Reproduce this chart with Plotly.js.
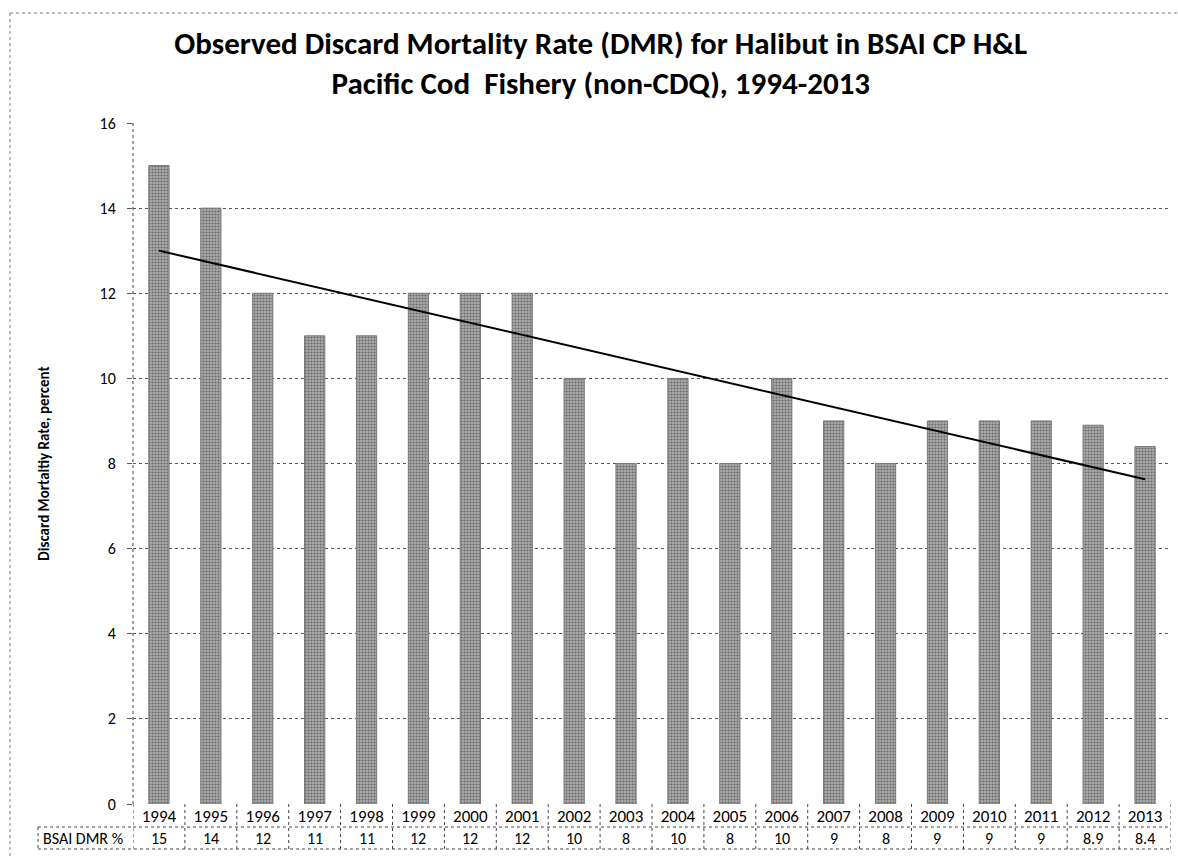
<!DOCTYPE html>
<html>
<head>
<meta charset="utf-8">
<script src="https://cdn.plot.ly/plotly-3.0.1.min.js"></script>
<style>html,body{margin:0;padding:0;background:#fff;}#chart{width:1178px;height:858px;}</style>
</head>
<body>
<div id="chart"></div>
<script>
const years = ["1994","1995","1996","1997","1998","1999","2000","2001","2002","2003","2004","2005","2006","2007","2008","2009","2010","2011","2012","2013"];
const dmrValues = [15,14,12,11,11,12,12,12,10,8,10,8,10,9,8,9,9,9,8.9,8.4];
const dmrLabels = ["15","14","12","11","11","12","12","12","10","8","10","8","10","9","8","9","9","9","8.9","8.4"];
const tableRowLabel = "BSAI DMR %";
const yTicks = [0,2,4,6,8,10,12,14,16];

// linear trendline (least squares) from the data
const n = dmrValues.length;
const idx = dmrValues.map((_, i) => i);
const mx = idx.reduce((a, b) => a + b, 0) / n;
const my = dmrValues.reduce((a, b) => a + b, 0) / n;
let sxy = 0, sxx = 0;
idx.forEach(i => { sxy += (i - mx) * (dmrValues[i] - my); sxx += (i - mx) * (i - mx); });
const slope = sxy / sxx;
const intercept = my - slope * mx;
const trendY = [intercept, intercept + slope * (n - 1)];
const trendX = [years[0], years[n - 1]];

const FONT = "Carlito, 'Liberation Sans Narrow', 'Liberation Sans', Arial, sans-serif";
const gridCol = '#555';

const bars = {
  type: 'bar', x: years, y: dmrValues, showlegend: false, hoverinfo: 'x+y',
  marker: {
    color: '#a0a0a0',
    line: {color: '#7a7a7a', width: 1},
    pattern: {shape: '.', fgcolor: '#6a6a6a', bgcolor: '#ababab', size: 3, solidity: 0.4}
  }
};
const trend = {
  type: 'scatter', mode: 'lines', x: trendX, y: trendY, showlegend: false,
  line: {color: '#000', width: 2}, hoverinfo: 'skip'
};

// table shapes
const rowTop = 0, rowMid = -0.0338, rowBot = -0.0661, labelLeft = -0.0915;
const dotLine = {color: '#444', width: 1, dash: 'dot'};
const shapes = [];
shapes.push({type: 'line', xref: 'paper', yref: 'paper', x0: 0, x1: 0, y0: 0, y1: 1, line: dotLine});
shapes.push({type: 'line', xref: 'paper', yref: 'paper', x0: 0, x1: 1, y0: rowMid, y1: rowMid, line: dotLine});
shapes.push({type: 'line', xref: 'paper', yref: 'paper', x0: labelLeft, x1: 1, y0: rowBot, y1: rowBot, line: dotLine});
shapes.push({type: 'line', xref: 'paper', yref: 'paper', x0: labelLeft, x1: 0, y0: rowMid, y1: rowMid, line: dotLine});
shapes.push({type: 'line', xref: 'paper', yref: 'paper', x0: labelLeft, x1: labelLeft, y0: rowMid, y1: rowBot, line: dotLine});
for (let i = 0; i <= years.length; i++) {
  shapes.push({type: 'line', xref: 'x', yref: 'paper', x0: i - 0.5, x1: i - 0.5, y0: rowTop, y1: rowBot, line: dotLine});
}
// outer chart border (left and top)
shapes.push({type: 'line', xref: 'paper', yref: 'paper', x0: -0.1185, x1: -0.1185, y0: 1.1615, y1: -0.08, line: {color: '#777', width: 1, dash: 'dot'}});
shapes.push({type: 'line', xref: 'paper', yref: 'paper', x0: -0.1185, x1: 1.02, y0: 1.1615, y1: 1.1615, line: {color: '#777', width: 1, dash: 'dot'}});

const annotations = years.map((yr, i) => ({
  x: (i + 0.5) / n, xref: 'paper', y: (rowMid + rowBot) / 2, yref: 'paper', text: dmrLabels[i],
  showarrow: false, font: {family: FONT, size: 16, color: '#000'}, xanchor: 'center', yanchor: 'middle'
}));
annotations.push({
  x: labelLeft + 0.003, xref: 'paper', y: (rowMid + rowBot) / 2, yref: 'paper', text: tableRowLabel,
  showarrow: false, font: {family: FONT, size: 16, color: '#000'}, xanchor: 'left', yanchor: 'middle'
});

const layout = {
  width: 1178, height: 858,
  margin: {l: 133, r: 7, t: 123, b: 54},
  paper_bgcolor: '#fff', plot_bgcolor: '#fff',
  title: {
    text: 'Observed Discard Mortality Rate (DMR) for Halibut in BSAI CP H&L<br>Pacific Cod  Fishery (non-CDQ), 1994-2013',
    font: {family: FONT, size: 31, color: '#000', weight: 'bold'},
    x: 0.51, xref: 'container', xanchor: 'center', y: 0.937, yanchor: 'middle'
  },
  bargap: 0.61,
  xaxis: {
    type: 'category', tickvals: years, ticktext: years,
    showgrid: false, showline: false, zeroline: false, ticks: '',
    tickfont: {family: FONT, size: 17, color: '#000'},
    range: [-0.5, years.length - 0.5], fixedrange: true
  },
  yaxis: {
    range: [0, 16], tickvals: yTicks, ticktext: yTicks.map(String),
    showgrid: true, gridcolor: gridCol, griddash: 'dot', gridwidth: 1,
    zeroline: false, showline: false,
    ticks: 'outside', ticklen: 5, tickcolor: gridCol, ticklabelstandoff: 8,
    tickfont: {family: FONT, size: 16, color: '#000'},
    title: {text: 'Discard Mortaltiy Rate, percent', font: {family: FONT, size: 15, color: '#000', weight: 'bold'}, standoff: 46}
  },
  shapes: shapes,
  annotations: annotations
};

Plotly.newPlot('chart', [bars, trend], layout, {displayModeBar: false, staticPlot: true});
</script>
</body>
</html>
